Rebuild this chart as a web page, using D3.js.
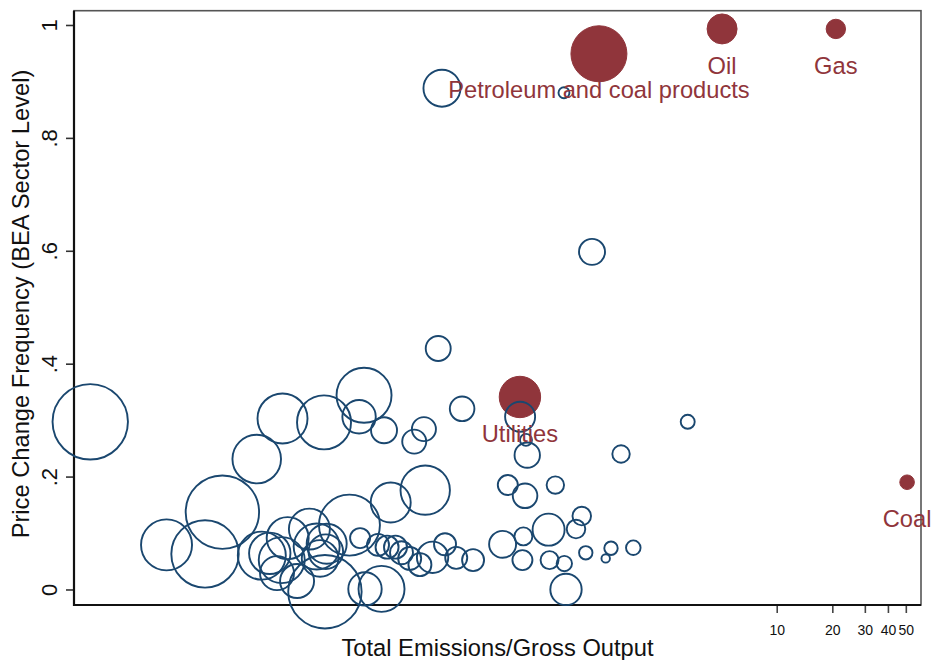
<!DOCTYPE html>
<html><head><meta charset="utf-8">
<script src="https://cdn.jsdelivr.net/npm/d3@7"></script>
<style>body{margin:0;background:#fff} text{font-family:"Liberation Sans",Arial,sans-serif}</style>
</head><body><svg id="c" width="932" height="660"></svg>
<script>
// Sector-level points (BEA sectors): emissions/gross output, price change frequency, size weight
const sectorX = [0.00192,0.154,0.705,1.00,0.147,0.198,0.0583,0.0548,0.0748,0.123,0.109,0.0354,0.0211,0.0153,0.125,0.0813,0.0486,0.00997,0.00497,0.00803,0.0358,0.0725,0.0590,0.723,0.408,0.439,0.446,1.436,3.297,0.350,0.434,0.633,0.880,0.819,0.582,0.425,0.328,0.420,0.589,0.708,0.925,1.267,1.186,1.673,0.160,0.184,0.227,0.137,0.117,0.103,0.0930,0.0863,0.0777,0.0694,0.0555,0.0163,0.0180,0.0209,0.0225,0.0253,0.0295,0.0323,0.0366,0.0337,0.0362,0.0197];
const sectorY = [0.297,0.888,0.880,0.598,0.427,0.320,0.344,0.306,0.282,0.284,0.262,0.296,0.303,0.231,0.176,0.154,0.114,0.137,0.079,0.063,-0.004,0.001,0.001,0.000,0.306,0.265,0.238,0.240,0.297,0.185,0.166,0.185,0.130,0.107,0.106,0.094,0.080,0.052,0.052,0.046,0.065,0.073,0.055,0.074,0.080,0.056,0.052,0.057,0.044,0.055,0.065,0.075,0.075,0.079,0.091,0.060,0.064,0.052,0.091,0.015,0.107,0.076,0.081,0.055,0.067,0.029];
const sectorSize = [142.1,34.2,3.0,16.9,15.6,15.1,75.6,27.9,16.9,14.4,14.4,72.9,62.5,59.0,61.0,40.0,93.0,134.7,65.0,113.6,134.7,52.9,27.9,24.6,22.5,3.6,16.1,7.6,4.9,10.0,15.1,7.6,8.6,8.6,25.6,8.1,18.2,10.0,8.1,5.9,4.5,4.5,1.8,5.3,12.1,12.1,12.1,24.6,13.2,13.2,13.2,13.2,13.2,12.1,10.0,57.6,42.8,52.9,44.1,28.9,42.0,52.9,40.0,33.5,29.9,28.9];

// Energy sectors (highlighted and labelled)
const energyNames = ["Petroleum and coal products","Oil","Gas","Utilities","Coal"];
const energyX = [1.09,5.06,20.9,0.407,50.8];
const energyY = [0.949,0.993,0.993,0.341,0.190];
const energySize = [78.4,22.5,9.4,42.8,5.3];

const yTicks = [0,0.2,0.4,0.6,0.8,1];
const yTickLabels = ["0",".2",".4",".6",".8","1"];
const xTicks = [10,20,30,40,50];
const xTickLabels = ["10","20","30","40","50"];

const xTitle = "Total Emissions/Gross Output";
const yTitle = "Price Change Frequency (BEA Sector Level)";

const navy = "rgb(26,71,111)", maroon = "rgb(144,53,59)";
const L = 74, R = 921, T = 10.7, B = 605;

const svg = d3.select("#c");
const x = d3.scaleLog().domain([0.001568, 60.42]).range([L, R]);
const y = d3.scaleLinear().domain([-0.0275, 1.0253]).range([B, T]);
const r = d3.scaleSqrt().domain([0, 100]).range([0, Math.sqrt(1000)]);

// frame
svg.append("rect").attr("x", L).attr("y", T).attr("width", R - L).attr("height", B - T)
  .attr("fill", "none").attr("stroke", "#555").attr("stroke-width", 1.6);

// y axis
const ya = svg.append("g").attr("transform", `translate(${L},0)`)
  .call(d3.axisLeft(y).tickValues(yTicks).tickFormat((d, i) => yTickLabels[i]).tickSize(8));
ya.select(".domain").remove();
ya.selectAll(".tick line").attr("stroke", "#333").attr("stroke-width", 1.6);
ya.selectAll(".tick text").attr("x", null).attr("dy", null)
  .attr("transform", "translate(-17,0) rotate(-90)").attr("text-anchor", "middle")
  .attr("font-size", 22).attr("fill", "#111").style("font-family", '"Liberation Sans",Arial,sans-serif');

// x axis
const xa = svg.append("g").attr("transform", `translate(0,${B})`)
  .call(d3.axisBottom(x).tickValues(xTicks).tickFormat((d, i) => xTickLabels[i]).tickSize(8));
xa.select(".domain").remove();
xa.selectAll(".tick line").attr("stroke", "#444").attr("stroke-width", 1.6);
xa.selectAll(".tick text").attr("y", 20).attr("font-size", 14).attr("fill", "#111")
  .style("font-family", '"Liberation Sans",Arial,sans-serif');

// axis lines
svg.append("line").attr("x1", L).attr("x2", L).attr("y1", T).attr("y2", B + 1)
  .attr("stroke", "#111").attr("stroke-width", 2.2);
svg.append("line").attr("x1", L - 1).attr("x2", R).attr("y1", B).attr("y2", B)
  .attr("stroke", "#111").attr("stroke-width", 2.2);

// energy filled markers
const eIdx = d3.range(energyNames.length);
svg.append("g").selectAll("circle").data(eIdx).join("circle")
  .attr("cx", i => x(energyX[i])).attr("cy", i => y(energyY[i])).attr("r", i => r(energySize[i]))
  .attr("fill", maroon).attr("stroke", maroon).attr("stroke-width", 1);

// sector hollow markers
const sIdx = d3.range(sectorX.length);
svg.append("g").selectAll("circle").data(sIdx).join("circle")
  .attr("cx", i => x(sectorX[i])).attr("cy", i => y(sectorY[i])).attr("r", i => r(sectorSize[i]))
  .attr("fill", "none").attr("stroke", navy).attr("stroke-width", 1.9);

// labels
svg.append("g").selectAll("text").data(eIdx).join("text")
  .attr("x", i => x(energyX[i])).attr("y", i => y(energyY[i]) + 44.7)
  .attr("text-anchor", "middle").attr("font-size", 23.7).attr("fill", maroon)
  .text(i => energyNames[i]);

// titles
svg.append("text").attr("x", (L + R) / 2).attr("y", 656).attr("text-anchor", "middle")
  .attr("font-size", 23.7).attr("fill", "#111").text(xTitle);
svg.append("text").attr("transform", `translate(29,${304}) rotate(-90)`).attr("text-anchor", "middle")
  .attr("font-size", 23.7).attr("fill", "#111").text(yTitle);
</script></body></html>
